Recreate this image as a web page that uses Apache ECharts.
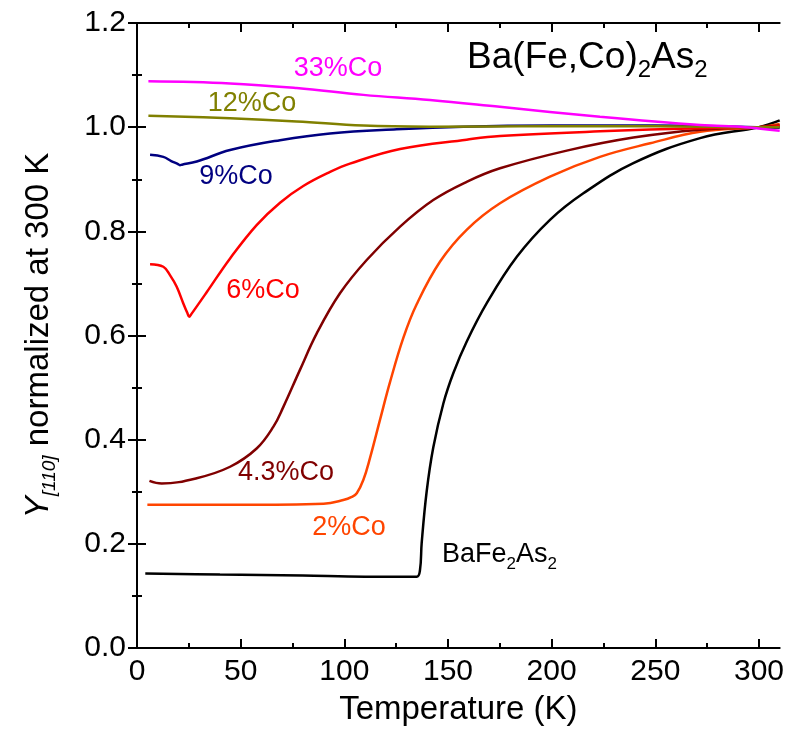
<!DOCTYPE html>
<html><head><meta charset="utf-8">
<script src="https://cdn.jsdelivr.net/npm/echarts@6/dist/echarts.min.js"></script>
<style>html,body{margin:0;padding:0;background:#fff}#c{width:787px;height:742px}</style>
</head><body><div id="c"></div>
<script>
// ---------- data (temperature in K, normalized Y[110]) ----------
const T_Ba = [4, 40, 80, 110, 134.9, 136.5, 137.3, 139.7, 142.9, 147.8, 152.6, 159, 168.7, 183.2, 199.2, 215.3, 239.4, 271.6, 300, 310];
const Y_Ba = [0.143, 0.141, 0.139, 0.137, 0.137, 0.150, 0.201, 0.300, 0.385, 0.470, 0.528, 0.588, 0.662, 0.751, 0.822, 0.873, 0.931, 0.979, 1.0, 1.013];

const T_Co2 = [5, 50, 90, 99.5, 103.6, 106, 109.2, 112.4, 117.2, 122, 128.5, 134.9, 146.2, 159, 175.1, 199.2, 223.3, 247.5, 271.6, 300, 310];
const Y_Co2 = [0.275, 0.275, 0.277, 0.284, 0.290, 0.297, 0.323, 0.365, 0.438, 0.510, 0.596, 0.660, 0.742, 0.803, 0.854, 0.905, 0.943, 0.969, 0.991, 1.0, 1.006];

const T_Co43 = [6, 11.9, 28.8, 44.9, 57.7, 65.8, 70.6, 78.6, 86.7, 97.9, 110.8, 126.9, 142.9, 159, 175.1, 207.3, 239.4, 271.6, 300, 310];
const Y_Co43 = [0.321, 0.316, 0.326, 0.348, 0.383, 0.425, 0.463, 0.534, 0.604, 0.681, 0.745, 0.809, 0.860, 0.895, 0.921, 0.955, 0.980, 0.995, 1.0, 1.003];

const T_Co6 = [6.3, 12.7, 15.9, 19.1, 22.3, 24.3, 25.2, 26.2, 33.6, 44.9, 57.7, 69, 80.2, 93.1, 102.7, 126.9, 159, 175.1, 223.3, 271.6, 300, 310];
const Y_Co6 = [0.737, 0.732, 0.716, 0.694, 0.662, 0.643, 0.636, 0.641, 0.683, 0.748, 0.812, 0.855, 0.887, 0.914, 0.930, 0.958, 0.976, 0.983, 0.992, 0.998, 1.0, 1.002];

const T_Co9 = [6.3, 12.7, 16.5, 19.8, 20.7, 21.7, 28.8, 44.9, 69, 93.1, 125.3, 157.4, 200, 250, 290, 310];
const Y_Co9 = [0.947, 0.943, 0.935, 0.929, 0.927, 0.928, 0.934, 0.956, 0.975, 0.988, 0.996, 1.001, 1.003, 1.003, 1.001, 0.999];

const T_Co12 = [5.5, 44.9, 77, 109.2, 141, 200, 250, 300, 310];
const Y_Co12 = [1.022, 1.017, 1.011, 1.003, 1.001, 1.002, 1.002, 1.0, 1.0];

const T_Co33 = [5.5, 44.9, 77, 109.2, 141.3, 175, 223.3, 271.6, 293.3, 310];
const Y_Co33 = [1.088, 1.084, 1.075, 1.062, 1.052, 1.039, 1.020, 1.004, 1.0, 0.993];

const seriesNames = ['BaFe2As2', '2%Co', '4.3%Co', '6%Co', '9%Co', '12%Co', '33%Co'];

const xMajorTicks = [0, 50, 100, 150, 200, 250, 300];
const xMinorTicks = [25, 75, 125, 175, 225, 275];
const yTickLabels = ['0.0', '0.2', '0.4', '0.6', '0.8', '1.0', '1.2'];

// annotation anchors (data coordinates)
const annotText = ['33%Co', '12%Co', '9%Co', '6%Co', '4.3%Co', '2%Co', 'BaFe{s|2}As{s|2}', 'Ba(Fe,Co){b|2}As{b|2}'];
const annotT = [97.0, 55.5, 47.8, 60.8, 71.9, 102.3, 147.1, 159.2];
const annotY = [1.112, 1.046, 0.906, 0.687, 0.336, 0.232, 0.179, 1.134];

// ---------- styling ----------
const FONT = '"Liberation Sans", Arial, Helvetica, sans-serif';
const colors = ['#000000', '#FF4500', '#800000', '#FF0000', '#000080', '#808000', '#FF00FF'];
const annotColors = ['#FF00FF', '#808000', '#000080', '#FF0000', '#800000', '#FF4500', '#000000', '#000000'];
const annotAlign = ['center', 'center', 'center', 'center', 'center', 'center', 'left', 'left'];
const annotSize = [27, 27, 27, 27, 27, 27, 27, 37];

const seriesT = [T_Ba, T_Co2, T_Co43, T_Co6, T_Co9, T_Co12, T_Co33];
const seriesY = [Y_Ba, Y_Co2, Y_Co43, Y_Co6, Y_Co9, Y_Co12, Y_Co33];

const chart = echarts.init(document.getElementById('c'), null, {renderer: 'canvas'});

const lineSeries = seriesNames.map((n, k) => ({
  type: 'line', name: n, xAxisIndex: 0, yAxisIndex: 0,
  data: seriesT[k].map((t, i) => [t, seriesY[k][i]]),
  showSymbol: false, symbol: 'none',
  smooth: 0.4,
  lineStyle: {color: colors[k], width: 2.5},
  itemStyle: {color: colors[k]},
  silent: true, z: 3
}));

const labelSeries = {
  type: 'scatter', xAxisIndex: 0, yAxisIndex: 0, symbolSize: 0, silent: true, z: 6,
  itemStyle: {opacity: 1},
  data: annotText.map((txt, i) => ({
    value: [annotT[i], annotY[i]],
    itemStyle: {opacity: 1},
    label: {
      show: true, position: 'inside', formatter: txt, opacity: 1,
      align: annotAlign[i], verticalAlign: 'middle',
      color: annotColors[i], fontSize: annotSize[i], fontFamily: FONT,
      rich: {
        s: {fontSize: 17, fontFamily: FONT, color: annotColors[i], padding: [20, 0, 0, 0]},
        b: {fontSize: 24, fontFamily: FONT, color: annotColors[i], padding: [26, 0, 0, 0]}
      }
    }
  }))
};

const axisLineStyle = {show: true, lineStyle: {color: '#000', width: 2}};
const baseX = {type: 'value', min: 0, max: 310, splitLine: {show: false}};
const baseY = {type: 'value', min: 0, max: 1.2, interval: 0.2, splitLine: {show: false}};

const option = {
  animation: false,
  backgroundColor: '#fff',
  grid: {left: 137, right: 7, top: 23, bottom: 94, containLabel: false},
  xAxis: [
    Object.assign({}, baseX, {
      position: 'bottom', axisLine: axisLineStyle,
      axisTick: {show: true, inside: true, length: 9, lineStyle: {color: '#000', width: 2}, customValues: xMajorTicks},
      axisLabel: {show: true, margin: 9, color: '#000', fontSize: 30, fontFamily: FONT, customValues: xMajorTicks},
      name: 'Temperature (K)', nameLocation: 'middle', nameGap: 45,
      nameTextStyle: {color: '#000', fontSize: 33, fontFamily: FONT}
    }),
    Object.assign({}, baseX, {
      position: 'bottom', axisLine: {show: false},
      axisTick: {show: true, inside: true, length: 5, lineStyle: {color: '#000', width: 2}, customValues: xMinorTicks},
      axisLabel: {show: false}
    }),
    Object.assign({}, baseX, {
      position: 'top', axisLine: axisLineStyle,
      axisTick: {show: true, inside: true, length: 9, lineStyle: {color: '#000', width: 2}, customValues: xMajorTicks},
      axisLabel: {show: false}
    }),
    Object.assign({}, baseX, {
      position: 'top', axisLine: {show: false},
      axisTick: {show: true, inside: true, length: 5, lineStyle: {color: '#000', width: 2}, customValues: xMinorTicks},
      axisLabel: {show: false}
    })
  ],
  yAxis: [
    Object.assign({}, baseY, {
      position: 'left', axisLine: axisLineStyle,
      axisTick: {show: true, inside: true, length: 9, lineStyle: {color: '#000', width: 2}},
      minorTick: {show: true, splitNumber: 2, length: 5, lineStyle: {color: '#000', width: 2}},
      axisLabel: {show: true, margin: 11, color: '#000', fontSize: 30, fontFamily: FONT,
        formatter: (v) => yTickLabels[Math.round(v / 0.2)]},
      name: '{i|Y}{s|[110]} normalized at 300 K', nameLocation: 'middle', nameRotate: 90, nameGap: 78,
      nameTextStyle: {color: '#000', fontSize: 33, fontFamily: FONT,
        rich: {
          i: {fontStyle: 'italic', fontSize: 33, fontFamily: FONT, color: '#000'},
          s: {fontStyle: 'italic', fontSize: 19, fontFamily: FONT, color: '#000', padding: [22, 0, 0, 0]}
        }}
    }),
    Object.assign({}, baseY, {
      position: 'right', axisLine: axisLineStyle,
      axisTick: {show: true, inside: true, length: 9, lineStyle: {color: '#000', width: 2}},
      minorTick: {show: true, splitNumber: 2, length: 5, lineStyle: {color: '#000', width: 2}},
      axisLabel: {show: false}
    })
  ],
  series: lineSeries.concat([labelSeries])
};

chart.setOption(option);
</script>
</body></html>
